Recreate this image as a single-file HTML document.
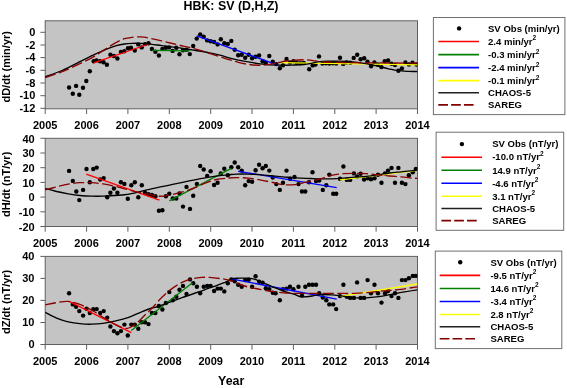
<!DOCTYPE html>
<html><head><meta charset="utf-8"><title>HBK: SV (D,H,Z)</title>
<style>html,body{margin:0;padding:0;background:#fff}svg{display:block}</style></head>
<body>
<svg width="567" height="388" viewBox="0 0 567 388" font-family="'Liberation Sans', Arial, sans-serif" font-weight="bold" fill="#000">
<rect width="567" height="388" fill="#fff"/>
<text x="231" y="10.2" font-size="12.4" text-anchor="middle">HBK: SV (D,H,Z)</text>
<text x="231.2" y="385.4" font-size="12.4" text-anchor="middle">Year</text>
<g>
<clipPath id="cp0"><rect x="45.2" y="20.8" width="372.3" height="88.0"/></clipPath>
<rect x="45.2" y="20.8" width="372.3" height="88.0" fill="#c4c4c4" stroke="#606060" stroke-width="1"/>
<path d="M45.2 108.8 v5.2M86.6 108.8 v5.2M127.9 108.8 v5.2M169.3 108.8 v5.2M210.7 108.8 v5.2M252.0 108.8 v5.2M293.4 108.8 v5.2M334.8 108.8 v5.2M376.1 108.8 v5.2M417.5 108.8 v5.2M45.2 32.3 h-4.8M45.2 45.0 h-4.8M45.2 57.6 h-4.8M45.2 70.3 h-4.8M45.2 83.0 h-4.8M45.2 95.7 h-4.8M45.2 108.3 h-4.8" stroke="#606060" stroke-width="1" fill="none"/>
<text x="45.2" y="129.2" font-size="11" text-anchor="middle">2005</text>
<text x="86.6" y="129.2" font-size="11" text-anchor="middle">2006</text>
<text x="127.9" y="129.2" font-size="11" text-anchor="middle">2007</text>
<text x="169.3" y="129.2" font-size="11" text-anchor="middle">2008</text>
<text x="210.7" y="129.2" font-size="11" text-anchor="middle">2009</text>
<text x="252.0" y="129.2" font-size="11" text-anchor="middle">2010</text>
<text x="293.4" y="129.2" font-size="11" text-anchor="middle">2011</text>
<text x="334.8" y="129.2" font-size="11" text-anchor="middle">2012</text>
<text x="376.1" y="129.2" font-size="11" text-anchor="middle">2013</text>
<text x="417.5" y="129.2" font-size="11" text-anchor="middle">2014</text>
<text x="35.3" y="35.9" font-size="11" text-anchor="end">0</text>
<text x="35.3" y="48.6" font-size="11" text-anchor="end">-2</text>
<text x="35.3" y="61.2" font-size="11" text-anchor="end">-4</text>
<text x="35.3" y="73.9" font-size="11" text-anchor="end">-6</text>
<text x="35.3" y="86.6" font-size="11" text-anchor="end">-8</text>
<text x="35.3" y="99.2" font-size="11" text-anchor="end">-10</text>
<text x="35.3" y="111.9" font-size="11" text-anchor="end">-12</text>
<text transform="translate(9.8 66.8) rotate(-90)" font-size="11" text-anchor="middle">dD/dt (min/yr)</text>
<g clip-path="url(#cp0)">
<g fill="#000"><circle cx="69.1" cy="87.5" r="2.2"/><circle cx="72.8" cy="93.8" r="2.2"/><circle cx="76.1" cy="85.9" r="2.2"/><circle cx="79.3" cy="94.7" r="2.2"/><circle cx="83.0" cy="87.7" r="2.2"/><circle cx="86.3" cy="81.0" r="2.2"/><circle cx="89.8" cy="71.3" r="2.2"/><circle cx="93.7" cy="61.3" r="2.2"/><circle cx="96.5" cy="60.4" r="2.2"/><circle cx="100.0" cy="61.3" r="2.2"/><circle cx="103.5" cy="62.2" r="2.2"/><circle cx="106.9" cy="64.8" r="2.2"/><circle cx="110.4" cy="54.8" r="2.2"/><circle cx="113.9" cy="56.0" r="2.2"/><circle cx="117.4" cy="58.5" r="2.2"/><circle cx="120.9" cy="52.0" r="2.2"/><circle cx="124.3" cy="51.3" r="2.2"/><circle cx="128.0" cy="48.3" r="2.2"/><circle cx="131.0" cy="47.8" r="2.2"/><circle cx="134.8" cy="50.6" r="2.2"/><circle cx="138.3" cy="44.4" r="2.2"/><circle cx="141.7" cy="47.4" r="2.2"/><circle cx="145.0" cy="44.1" r="2.2"/><circle cx="148.5" cy="43.2" r="2.2"/><circle cx="151.9" cy="49.0" r="2.2"/><circle cx="155.4" cy="51.8" r="2.2"/><circle cx="158.9" cy="55.5" r="2.2"/><circle cx="162.4" cy="49.0" r="2.2"/><circle cx="165.9" cy="47.8" r="2.2"/><circle cx="169.1" cy="47.4" r="2.2"/><circle cx="172.6" cy="50.9" r="2.2"/><circle cx="176.3" cy="47.8" r="2.2"/><circle cx="179.5" cy="54.3" r="2.2"/><circle cx="183.0" cy="50.2" r="2.2"/><circle cx="186.5" cy="49.7" r="2.2"/><circle cx="189.8" cy="54.1" r="2.2"/><circle cx="193.2" cy="46.0" r="2.2"/><circle cx="196.7" cy="38.6" r="2.2"/><circle cx="200.2" cy="34.4" r="2.2"/><circle cx="203.7" cy="36.7" r="2.2"/><circle cx="207.2" cy="40.4" r="2.2"/><circle cx="210.6" cy="41.3" r="2.2"/><circle cx="214.1" cy="42.0" r="2.2"/><circle cx="217.6" cy="44.4" r="2.2"/><circle cx="220.8" cy="39.3" r="2.2"/><circle cx="224.3" cy="43.2" r="2.2"/><circle cx="227.8" cy="43.9" r="2.2"/><circle cx="231.3" cy="40.9" r="2.2"/><circle cx="234.7" cy="49.7" r="2.2"/><circle cx="238.2" cy="55.3" r="2.2"/><circle cx="241.7" cy="54.8" r="2.2"/><circle cx="245.2" cy="57.8" r="2.2"/><circle cx="248.7" cy="54.8" r="2.2"/><circle cx="252.1" cy="58.3" r="2.2"/><circle cx="255.6" cy="56.7" r="2.2"/><circle cx="259.1" cy="55.5" r="2.2"/><circle cx="262.6" cy="61.3" r="2.2"/><circle cx="265.8" cy="62.9" r="2.2"/><circle cx="269.3" cy="56.0" r="2.2"/><circle cx="272.8" cy="61.8" r="2.2"/><circle cx="276.3" cy="64.1" r="2.2"/><circle cx="279.8" cy="68.3" r="2.2"/><circle cx="283.0" cy="65.2" r="2.2"/><circle cx="286.5" cy="59.0" r="2.2"/><circle cx="290.0" cy="62.5" r="2.2"/><circle cx="293.4" cy="61.3" r="2.2"/><circle cx="296.9" cy="63.0" r="2.2"/><circle cx="300.4" cy="63.2" r="2.2"/><circle cx="303.8" cy="63.0" r="2.2"/><circle cx="309.2" cy="69.3" r="2.2"/><circle cx="312.7" cy="65.4" r="2.2"/><circle cx="315.5" cy="64.6" r="2.2"/><circle cx="319.0" cy="56.4" r="2.2"/><circle cx="322.4" cy="63.6" r="2.2"/><circle cx="325.9" cy="63.3" r="2.2"/><circle cx="329.3" cy="63.5" r="2.2"/><circle cx="332.8" cy="63.2" r="2.2"/><circle cx="336.2" cy="63.5" r="2.2"/><circle cx="340.0" cy="57.8" r="2.2"/><circle cx="343.2" cy="63.9" r="2.2"/><circle cx="346.6" cy="62.5" r="2.2"/><circle cx="350.3" cy="62.8" r="2.2"/><circle cx="353.7" cy="57.9" r="2.2"/><circle cx="357.2" cy="54.8" r="2.2"/><circle cx="360.6" cy="59.2" r="2.2"/><circle cx="364.2" cy="58.3" r="2.2"/><circle cx="367.5" cy="61.8" r="2.2"/><circle cx="371.1" cy="66.2" r="2.2"/><circle cx="374.4" cy="62.5" r="2.2"/><circle cx="377.8" cy="64.5" r="2.2"/><circle cx="381.4" cy="67.1" r="2.2"/><circle cx="384.7" cy="61.2" r="2.2"/><circle cx="388.1" cy="60.5" r="2.2"/><circle cx="391.6" cy="63.8" r="2.2"/><circle cx="395.0" cy="65.1" r="2.2"/><circle cx="398.4" cy="70.7" r="2.2"/><circle cx="401.9" cy="68.4" r="2.2"/><circle cx="405.4" cy="62.5" r="2.2"/><circle cx="408.9" cy="64.5" r="2.2"/><circle cx="412.5" cy="62.8" r="2.2"/><circle cx="416.4" cy="64.5" r="2.2"/></g>
<path d="M93.7 62.9 L149.0 44.0" stroke="#ff0000" stroke-width="1.3" fill="none"/>
<path d="M152.4 50.4 L189.5 50.9" stroke="#008000" stroke-width="1.3" fill="none"/>
<path d="M196.7 35.8 L277.3 64.9" stroke="#0000ff" stroke-width="1.3" fill="none"/>
<path d="M279.8 62.6 L417.5 64.8" stroke="#ffff00" stroke-width="1.3" fill="none"/>
<path d="M45.0 76.8C47.6 75.8 55.6 73.2 60.9 71.0C66.2 68.8 71.4 65.9 76.7 63.3C82.0 60.7 87.3 57.9 92.6 55.4C97.9 52.9 104.5 49.9 108.5 48.3C112.5 46.7 113.8 46.3 116.4 45.6C119.1 44.9 121.8 44.4 124.4 44.0C127.0 43.6 128.4 43.4 132.0 43.3C135.6 43.2 141.0 43.2 145.9 43.6C150.8 44.0 156.4 44.9 161.7 45.6C167.0 46.3 172.3 47.0 177.6 47.7C182.9 48.5 188.2 49.2 193.5 50.1C198.8 51.0 205.0 51.9 209.4 52.8C213.8 53.6 216.4 54.3 220.0 55.2C223.6 56.1 226.5 57.2 230.9 58.3C235.3 59.4 241.4 60.7 246.7 61.7C252.0 62.7 257.3 63.5 262.6 64.1C267.9 64.7 273.2 65.0 278.5 65.2C283.8 65.4 290.3 65.1 294.4 65.0C298.5 64.9 300.4 64.8 303.0 64.6C305.6 64.4 307.5 64.0 310.0 63.6C312.5 63.2 315.0 62.3 318.0 61.9C321.0 61.5 324.6 61.3 327.9 61.2C331.2 61.1 334.5 61.1 337.8 61.1C341.1 61.1 344.3 61.2 347.6 61.4C350.9 61.6 354.2 61.9 357.5 62.3C360.8 62.7 364.6 63.3 367.4 63.8C370.1 64.3 371.7 64.8 374.0 65.3C376.3 65.8 378.6 66.4 381.0 67.0C383.4 67.6 385.8 68.2 388.6 68.8C391.4 69.4 394.6 70.2 397.9 70.6C401.2 71.0 405.2 71.2 408.5 71.4C411.8 71.6 416.0 71.5 417.5 71.5" stroke="#000" stroke-width="1.35" fill="none"/>
<path d="M45.0 77.6C47.6 76.7 55.6 74.2 60.9 72.1C66.2 70.0 71.4 67.7 76.7 65.2C82.0 62.7 88.6 59.5 92.6 57.3C96.6 55.1 97.9 53.9 100.6 52.2C103.2 50.5 105.9 48.7 108.5 47.1C111.1 45.5 113.8 43.8 116.4 42.4C119.1 41.0 121.8 39.6 124.4 38.7C127.0 37.9 129.5 37.6 132.0 37.3C134.5 37.0 137.2 36.9 139.5 36.9C141.8 36.9 142.2 36.7 145.9 37.4C149.6 38.1 156.4 39.7 161.7 40.9C167.0 42.1 172.3 43.5 177.6 44.8C182.9 46.1 188.2 47.1 193.5 48.5C198.8 49.9 205.0 51.9 209.4 53.3C213.8 54.7 216.4 55.6 220.0 56.7C223.6 57.9 226.5 59.0 230.9 60.2C235.3 61.4 241.4 63.3 246.7 64.1C252.0 64.9 257.3 65.5 262.6 65.2C267.9 64.9 274.5 63.2 278.5 62.5C282.5 61.8 282.0 61.5 286.4 61.0C290.8 60.5 299.8 59.7 305.0 59.8C310.2 59.9 314.5 61.0 317.8 61.4C321.1 61.8 320.5 61.8 325.0 62.0C329.5 62.2 335.8 62.5 345.0 62.6C354.2 62.8 367.9 62.8 380.0 62.9C392.1 63.0 411.2 63.2 417.5 63.2" stroke="#8a0000" stroke-width="1.35" fill="none" stroke-dasharray="11 3.5"/>
</g>
<rect x="433.4" y="17.5" width="131.5" height="97.1" fill="#fff" stroke="#707070" stroke-width="1"/>
<circle cx="459.1" cy="28.4" r="2.2"/>
<text x="488.0" y="31.6" font-size="9.55">SV Obs (min/yr)</text>
<path d="M438.3 41.5 H479.0" stroke="#ff0000" stroke-width="1.6"/>
<text x="488.0" y="44.7" font-size="9.55">2.4 min/yr<tspan font-size="6.5" dy="-4.3">2</tspan></text>
<path d="M438.3 54.6 H479.0" stroke="#008000" stroke-width="1.6"/>
<text x="488.0" y="57.8" font-size="9.55">-0.3 min/yr<tspan font-size="6.5" dy="-4.3">2</tspan></text>
<path d="M438.3 67.6 H479.0" stroke="#0000ff" stroke-width="1.6"/>
<text x="488.0" y="70.8" font-size="9.55">-2.4 min/yr<tspan font-size="6.5" dy="-4.3">2</tspan></text>
<path d="M438.3 80.6 H479.0" stroke="#ffff00" stroke-width="1.6"/>
<text x="488.0" y="83.8" font-size="9.55">-0.1 min/yr<tspan font-size="6.5" dy="-4.3">2</tspan></text>
<path d="M438.3 92.8 H479.0" stroke="#202020" stroke-width="1.6"/>
<text x="488.0" y="96.0" font-size="9.55">CHAOS-5</text>
<path d="M438.3 104.9 H473.6" stroke="#800000" stroke-width="1.6" stroke-dasharray="9.7 3.1"/>
<text x="488.0" y="108.1" font-size="9.55">SAREG</text>
</g>
<g>
<clipPath id="cp1"><rect x="45.2" y="138.3" width="372.3" height="88.2"/></clipPath>
<rect x="45.2" y="138.3" width="372.3" height="88.2" fill="#c4c4c4" stroke="#606060" stroke-width="1"/>
<path d="M45.2 226.5 v5.2M86.6 226.5 v5.2M127.9 226.5 v5.2M169.3 226.5 v5.2M210.7 226.5 v5.2M252.0 226.5 v5.2M293.4 226.5 v5.2M334.8 226.5 v5.2M376.1 226.5 v5.2M417.5 226.5 v5.2M45.2 138.3 h-4.8M45.2 153.0 h-4.8M45.2 167.7 h-4.8M45.2 182.4 h-4.8M45.2 197.1 h-4.8M45.2 211.8 h-4.8M45.2 226.5 h-4.8" stroke="#606060" stroke-width="1" fill="none"/>
<text x="45.2" y="246.9" font-size="11" text-anchor="middle">2005</text>
<text x="86.6" y="246.9" font-size="11" text-anchor="middle">2006</text>
<text x="127.9" y="246.9" font-size="11" text-anchor="middle">2007</text>
<text x="169.3" y="246.9" font-size="11" text-anchor="middle">2008</text>
<text x="210.7" y="246.9" font-size="11" text-anchor="middle">2009</text>
<text x="252.0" y="246.9" font-size="11" text-anchor="middle">2010</text>
<text x="293.4" y="246.9" font-size="11" text-anchor="middle">2011</text>
<text x="334.8" y="246.9" font-size="11" text-anchor="middle">2012</text>
<text x="376.1" y="246.9" font-size="11" text-anchor="middle">2013</text>
<text x="417.5" y="246.9" font-size="11" text-anchor="middle">2014</text>
<text x="34.7" y="142.5" font-size="11" text-anchor="end">40</text>
<text x="34.7" y="157.2" font-size="11" text-anchor="end">30</text>
<text x="34.7" y="171.9" font-size="11" text-anchor="end">20</text>
<text x="34.7" y="186.6" font-size="11" text-anchor="end">10</text>
<text x="34.7" y="201.3" font-size="11" text-anchor="end">0</text>
<text x="34.7" y="216.0" font-size="11" text-anchor="end">-10</text>
<text x="34.7" y="230.7" font-size="11" text-anchor="end">-20</text>
<text transform="translate(9.8 184.4) rotate(-90)" font-size="11" text-anchor="middle">dH/dt (nT/yr)</text>
<g clip-path="url(#cp1)">
<g fill="#000"><circle cx="69.1" cy="170.9" r="2.2"/><circle cx="72.8" cy="180.9" r="2.2"/><circle cx="76.3" cy="191.5" r="2.2"/><circle cx="79.3" cy="200.1" r="2.2"/><circle cx="83.1" cy="189.9" r="2.2"/><circle cx="86.5" cy="169.0" r="2.2"/><circle cx="89.8" cy="182.2" r="2.2"/><circle cx="93.3" cy="169.0" r="2.2"/><circle cx="96.7" cy="167.6" r="2.2"/><circle cx="100.2" cy="179.5" r="2.2"/><circle cx="103.7" cy="178.1" r="2.2"/><circle cx="107.2" cy="197.3" r="2.2"/><circle cx="110.4" cy="192.7" r="2.2"/><circle cx="113.9" cy="188.5" r="2.2"/><circle cx="117.4" cy="192.7" r="2.2"/><circle cx="120.9" cy="182.2" r="2.2"/><circle cx="124.4" cy="183.9" r="2.2"/><circle cx="127.8" cy="198.7" r="2.2"/><circle cx="131.3" cy="185.3" r="2.2"/><circle cx="134.8" cy="182.2" r="2.2"/><circle cx="138.3" cy="197.3" r="2.2"/><circle cx="141.8" cy="185.3" r="2.2"/><circle cx="145.0" cy="192.7" r="2.2"/><circle cx="148.5" cy="194.3" r="2.2"/><circle cx="151.9" cy="195.0" r="2.2"/><circle cx="155.4" cy="196.2" r="2.2"/><circle cx="158.9" cy="210.8" r="2.2"/><circle cx="162.4" cy="210.3" r="2.2"/><circle cx="165.9" cy="196.2" r="2.2"/><circle cx="169.3" cy="193.8" r="2.2"/><circle cx="172.8" cy="198.5" r="2.2"/><circle cx="176.3" cy="198.5" r="2.2"/><circle cx="179.5" cy="193.4" r="2.2"/><circle cx="183.0" cy="206.6" r="2.2"/><circle cx="186.5" cy="186.9" r="2.2"/><circle cx="190.0" cy="208.9" r="2.2"/><circle cx="193.2" cy="195.7" r="2.2"/><circle cx="196.9" cy="183.9" r="2.2"/><circle cx="200.2" cy="166.0" r="2.2"/><circle cx="203.7" cy="169.5" r="2.2"/><circle cx="207.2" cy="176.0" r="2.2"/><circle cx="210.6" cy="171.3" r="2.2"/><circle cx="214.1" cy="185.0" r="2.2"/><circle cx="217.6" cy="182.7" r="2.2"/><circle cx="220.8" cy="173.4" r="2.2"/><circle cx="224.3" cy="168.8" r="2.2"/><circle cx="227.8" cy="175.3" r="2.2"/><circle cx="231.3" cy="167.2" r="2.2"/><circle cx="234.7" cy="162.5" r="2.2"/><circle cx="238.2" cy="167.2" r="2.2"/><circle cx="241.7" cy="170.6" r="2.2"/><circle cx="245.2" cy="185.3" r="2.2"/><circle cx="248.7" cy="181.1" r="2.2"/><circle cx="252.1" cy="181.8" r="2.2"/><circle cx="255.6" cy="170.2" r="2.2"/><circle cx="259.1" cy="164.8" r="2.2"/><circle cx="262.6" cy="168.3" r="2.2"/><circle cx="265.8" cy="166.0" r="2.2"/><circle cx="269.3" cy="170.6" r="2.2"/><circle cx="272.8" cy="177.6" r="2.2"/><circle cx="276.3" cy="184.1" r="2.2"/><circle cx="279.8" cy="189.9" r="2.2"/><circle cx="283.0" cy="182.7" r="2.2"/><circle cx="286.5" cy="170.6" r="2.2"/><circle cx="290.0" cy="178.8" r="2.2"/><circle cx="294.5" cy="177.0" r="2.2"/><circle cx="298.5" cy="184.1" r="2.2"/><circle cx="302.0" cy="191.5" r="2.2"/><circle cx="305.3" cy="191.5" r="2.2"/><circle cx="309.0" cy="182.2" r="2.2"/><circle cx="312.5" cy="172.3" r="2.2"/><circle cx="316.0" cy="181.1" r="2.2"/><circle cx="319.2" cy="180.6" r="2.2"/><circle cx="322.8" cy="189.9" r="2.2"/><circle cx="326.3" cy="185.3" r="2.2"/><circle cx="329.3" cy="174.6" r="2.2"/><circle cx="333.2" cy="193.8" r="2.2"/><circle cx="336.2" cy="193.8" r="2.2"/><circle cx="340.0" cy="178.8" r="2.2"/><circle cx="343.4" cy="166.5" r="2.2"/><circle cx="346.9" cy="179.9" r="2.2"/><circle cx="350.2" cy="179.9" r="2.2"/><circle cx="353.9" cy="173.4" r="2.2"/><circle cx="357.1" cy="176.4" r="2.2"/><circle cx="360.6" cy="173.7" r="2.2"/><circle cx="364.1" cy="179.5" r="2.2"/><circle cx="367.6" cy="178.3" r="2.2"/><circle cx="371.0" cy="179.2" r="2.2"/><circle cx="374.5" cy="178.3" r="2.2"/><circle cx="378.0" cy="174.8" r="2.2"/><circle cx="381.5" cy="182.7" r="2.2"/><circle cx="385.0" cy="173.4" r="2.2"/><circle cx="388.0" cy="170.6" r="2.2"/><circle cx="391.5" cy="167.9" r="2.2"/><circle cx="395.0" cy="182.7" r="2.2"/><circle cx="398.4" cy="167.9" r="2.2"/><circle cx="401.9" cy="182.7" r="2.2"/><circle cx="405.4" cy="184.1" r="2.2"/><circle cx="408.9" cy="175.3" r="2.2"/><circle cx="412.8" cy="172.3" r="2.2"/><circle cx="415.8" cy="169.0" r="2.2"/></g>
<path d="M86.3 174.1 L159.4 200.2" stroke="#ff0000" stroke-width="1.3" fill="none"/>
<path d="M169.3 200.8 L231.3 168.3" stroke="#008000" stroke-width="1.3" fill="none"/>
<path d="M238.2 171.3 L336.7 187.6" stroke="#0000ff" stroke-width="1.3" fill="none"/>
<path d="M340.0 179.8 L417.5 170.4" stroke="#ffff00" stroke-width="1.3" fill="none"/>
<path d="M45.0 188.5C46.9 189.0 52.7 190.6 56.6 191.5C60.5 192.4 64.3 193.1 68.2 193.8C72.1 194.5 75.9 195.1 79.8 195.5C83.7 195.9 87.5 196.1 91.4 196.2C95.3 196.3 99.1 196.3 103.0 196.2C106.9 196.1 110.7 195.8 114.6 195.5C118.5 195.2 123.6 194.8 126.2 194.5C128.8 194.2 126.7 194.6 130.0 193.9C133.3 193.2 140.6 191.4 145.9 190.2C151.2 189.0 156.4 187.8 161.7 186.7C167.0 185.5 172.3 184.4 177.6 183.3C182.9 182.2 188.2 181.1 193.5 180.1C198.8 179.1 205.0 177.9 209.4 177.2C213.8 176.4 216.9 176.0 220.0 175.6C223.1 175.2 225.0 175.1 227.8 174.8C230.6 174.6 233.2 174.2 236.6 174.1C240.0 174.0 244.3 174.0 248.2 174.1C252.1 174.2 255.9 174.3 259.8 174.6C263.7 174.9 267.5 175.3 271.4 175.7C275.3 176.1 279.1 176.6 283.0 176.9C286.9 177.2 290.7 177.6 294.6 177.8C298.5 178.0 302.3 178.1 306.2 178.3C310.1 178.5 314.7 178.7 317.8 178.8C320.9 178.9 322.7 178.8 325.0 178.8C327.3 178.8 328.6 178.9 331.6 178.8C334.6 178.7 339.3 178.4 343.2 178.1C347.1 177.8 350.9 177.4 354.8 177.1C358.7 176.8 362.5 176.8 366.4 176.4C370.3 176.0 374.1 175.4 378.0 174.8C381.9 174.2 385.7 173.5 389.6 173.0C393.5 172.5 397.3 172.2 401.2 171.8C405.1 171.4 410.1 170.9 412.8 170.6C415.5 170.3 416.7 170.3 417.5 170.2" stroke="#000" stroke-width="1.35" fill="none"/>
<path d="M45.0 189.9C46.9 189.4 52.7 187.9 56.6 186.9C60.5 185.9 64.3 184.8 68.2 184.1C72.1 183.4 75.9 182.9 79.8 182.7C83.7 182.5 87.5 182.5 91.4 182.7C95.3 182.9 99.1 183.3 103.0 183.9C106.9 184.5 110.7 185.3 114.6 186.2C118.5 187.1 122.3 188.2 126.2 189.2C130.1 190.2 134.4 191.4 137.8 192.2C141.2 193.0 143.2 193.1 146.6 193.8C150.0 194.5 154.3 196.0 158.2 196.2C162.1 196.4 165.9 195.7 169.8 195.0C173.7 194.3 177.5 193.3 181.4 192.2C185.3 191.1 189.1 190.0 193.0 188.5C196.9 187.0 200.7 184.9 204.6 183.4C208.5 181.9 212.3 180.4 216.2 179.5C220.1 178.6 224.4 178.4 227.8 178.1C231.2 177.8 233.2 177.6 236.6 177.6C240.0 177.6 244.3 177.7 248.2 178.1C252.1 178.5 255.9 179.2 259.8 179.9C263.7 180.6 267.5 181.4 271.4 182.2C275.3 183.0 279.1 184.2 283.0 184.6C286.9 185.0 290.7 185.0 294.6 184.6C298.5 184.2 302.3 183.0 306.2 182.2C310.1 181.3 314.7 180.3 317.8 179.5C320.9 178.7 322.7 178.3 325.0 177.6C327.3 176.9 328.6 176.0 331.6 175.3C334.6 174.7 339.3 174.0 343.2 173.7C347.1 173.4 350.9 173.4 354.8 173.4C358.7 173.4 362.5 173.5 366.4 173.7C370.3 173.9 374.1 174.4 378.0 174.8C381.9 175.2 385.7 175.7 389.6 176.0C393.5 176.3 397.3 176.6 401.2 176.9C405.1 177.2 410.1 177.9 412.8 178.1C415.5 178.3 416.7 178.3 417.5 178.3" stroke="#8a0000" stroke-width="1.35" fill="none" stroke-dasharray="11 3.5"/>
</g>
<rect x="436.1" y="132.2" width="127.6" height="98.1" fill="#fff" stroke="#707070" stroke-width="1"/>
<circle cx="461.9" cy="144.1" r="2.2"/>
<text x="492.2" y="147.3" font-size="9.55">SV Obs (nT/yr)</text>
<path d="M441.4 157.2 H482.0" stroke="#ff0000" stroke-width="1.6"/>
<text x="492.2" y="160.4" font-size="9.55">-10.0 nT/yr<tspan font-size="6.5" dy="-4.3">2</tspan></text>
<path d="M441.4 170.3 H482.0" stroke="#008000" stroke-width="1.6"/>
<text x="492.2" y="173.5" font-size="9.55">14.9 nT/yr<tspan font-size="6.5" dy="-4.3">2</tspan></text>
<path d="M441.4 183.3 H482.0" stroke="#0000ff" stroke-width="1.6"/>
<text x="492.2" y="186.5" font-size="9.55">-4.6 nT/yr<tspan font-size="6.5" dy="-4.3">2</tspan></text>
<path d="M441.4 196.3 H482.0" stroke="#ffff00" stroke-width="1.6"/>
<text x="492.2" y="199.5" font-size="9.55">3.1 nT/yr<tspan font-size="6.5" dy="-4.3">2</tspan></text>
<path d="M441.4 208.5 H482.0" stroke="#202020" stroke-width="1.6"/>
<text x="492.2" y="211.7" font-size="9.55">CHAOS-5</text>
<path d="M441.4 220.6 H476.7" stroke="#800000" stroke-width="1.6" stroke-dasharray="9.7 3.1"/>
<text x="492.2" y="223.8" font-size="9.55">SAREG</text>
</g>
<g>
<clipPath id="cp2"><rect x="45.2" y="256.4" width="372.3" height="88.1"/></clipPath>
<rect x="45.2" y="256.4" width="372.3" height="88.1" fill="#c4c4c4" stroke="#606060" stroke-width="1"/>
<path d="M45.2 344.5 v5.2M86.6 344.5 v5.2M127.9 344.5 v5.2M169.3 344.5 v5.2M210.7 344.5 v5.2M252.0 344.5 v5.2M293.4 344.5 v5.2M334.8 344.5 v5.2M376.1 344.5 v5.2M417.5 344.5 v5.2M45.2 256.4 h-4.8M45.2 278.4 h-4.8M45.2 300.4 h-4.8M45.2 322.5 h-4.8M45.2 344.5 h-4.8" stroke="#606060" stroke-width="1" fill="none"/>
<text x="45.2" y="365.2" font-size="11" text-anchor="middle">2005</text>
<text x="86.6" y="365.2" font-size="11" text-anchor="middle">2006</text>
<text x="127.9" y="365.2" font-size="11" text-anchor="middle">2007</text>
<text x="169.3" y="365.2" font-size="11" text-anchor="middle">2008</text>
<text x="210.7" y="365.2" font-size="11" text-anchor="middle">2009</text>
<text x="252.0" y="365.2" font-size="11" text-anchor="middle">2010</text>
<text x="293.4" y="365.2" font-size="11" text-anchor="middle">2011</text>
<text x="334.8" y="365.2" font-size="11" text-anchor="middle">2012</text>
<text x="376.1" y="365.2" font-size="11" text-anchor="middle">2013</text>
<text x="417.5" y="365.2" font-size="11" text-anchor="middle">2014</text>
<text x="34.5" y="259.8" font-size="11" text-anchor="end">40</text>
<text x="34.5" y="281.8" font-size="11" text-anchor="end">30</text>
<text x="34.5" y="303.8" font-size="11" text-anchor="end">20</text>
<text x="34.5" y="325.9" font-size="11" text-anchor="end">10</text>
<text x="34.5" y="347.9" font-size="11" text-anchor="end">0</text>
<text transform="translate(9.8 301.8) rotate(-90)" font-size="11" text-anchor="middle">dZ/dt (nT/yr)</text>
<g clip-path="url(#cp2)">
<g fill="#000"><circle cx="69.1" cy="293.3" r="2.2"/><circle cx="72.8" cy="304.4" r="2.2"/><circle cx="76.1" cy="306.7" r="2.2"/><circle cx="79.3" cy="311.1" r="2.2"/><circle cx="83.1" cy="315.6" r="2.2"/><circle cx="86.5" cy="308.8" r="2.2"/><circle cx="89.8" cy="313.0" r="2.2"/><circle cx="93.3" cy="309.3" r="2.2"/><circle cx="96.7" cy="309.1" r="2.2"/><circle cx="100.2" cy="313.0" r="2.2"/><circle cx="103.7" cy="311.1" r="2.2"/><circle cx="107.2" cy="317.6" r="2.2"/><circle cx="110.4" cy="326.5" r="2.2"/><circle cx="113.9" cy="331.1" r="2.2"/><circle cx="117.4" cy="333.2" r="2.2"/><circle cx="120.9" cy="331.1" r="2.2"/><circle cx="124.4" cy="324.6" r="2.2"/><circle cx="127.8" cy="335.5" r="2.2"/><circle cx="131.3" cy="324.6" r="2.2"/><circle cx="134.8" cy="324.6" r="2.2"/><circle cx="138.3" cy="328.8" r="2.2"/><circle cx="141.6" cy="322.3" r="2.2"/><circle cx="145.0" cy="322.3" r="2.2"/><circle cx="148.5" cy="324.1" r="2.2"/><circle cx="151.9" cy="313.0" r="2.2"/><circle cx="155.4" cy="313.0" r="2.2"/><circle cx="158.9" cy="306.0" r="2.2"/><circle cx="162.4" cy="309.5" r="2.2"/><circle cx="165.9" cy="303.0" r="2.2"/><circle cx="169.3" cy="292.1" r="2.2"/><circle cx="172.8" cy="300.2" r="2.2"/><circle cx="176.3" cy="296.8" r="2.2"/><circle cx="179.5" cy="289.8" r="2.2"/><circle cx="183.0" cy="285.9" r="2.2"/><circle cx="186.5" cy="294.0" r="2.2"/><circle cx="190.0" cy="279.4" r="2.2"/><circle cx="193.2" cy="283.3" r="2.2"/><circle cx="196.9" cy="286.8" r="2.2"/><circle cx="200.2" cy="293.3" r="2.2"/><circle cx="203.7" cy="286.8" r="2.2"/><circle cx="207.2" cy="285.9" r="2.2"/><circle cx="210.6" cy="285.9" r="2.2"/><circle cx="214.1" cy="291.0" r="2.2"/><circle cx="217.6" cy="288.6" r="2.2"/><circle cx="220.8" cy="288.6" r="2.2"/><circle cx="224.3" cy="291.4" r="2.2"/><circle cx="227.8" cy="283.3" r="2.2"/><circle cx="231.3" cy="279.4" r="2.2"/><circle cx="234.7" cy="281.2" r="2.2"/><circle cx="238.2" cy="284.7" r="2.2"/><circle cx="241.7" cy="286.8" r="2.2"/><circle cx="245.2" cy="280.1" r="2.2"/><circle cx="248.7" cy="279.8" r="2.2"/><circle cx="252.1" cy="286.8" r="2.2"/><circle cx="255.6" cy="276.3" r="2.2"/><circle cx="259.1" cy="281.7" r="2.2"/><circle cx="262.6" cy="282.8" r="2.2"/><circle cx="265.8" cy="288.2" r="2.2"/><circle cx="269.3" cy="289.1" r="2.2"/><circle cx="272.8" cy="292.8" r="2.2"/><circle cx="275.6" cy="293.3" r="2.2"/><circle cx="279.8" cy="300.2" r="2.2"/><circle cx="283.0" cy="289.1" r="2.2"/><circle cx="286.5" cy="288.6" r="2.2"/><circle cx="290.0" cy="286.8" r="2.2"/><circle cx="293.4" cy="289.3" r="2.2"/><circle cx="298.5" cy="286.8" r="2.2"/><circle cx="302.0" cy="295.6" r="2.2"/><circle cx="305.3" cy="286.8" r="2.2"/><circle cx="309.0" cy="284.7" r="2.2"/><circle cx="312.5" cy="284.7" r="2.2"/><circle cx="316.0" cy="284.7" r="2.2"/><circle cx="319.2" cy="293.3" r="2.2"/><circle cx="322.8" cy="297.5" r="2.2"/><circle cx="326.3" cy="300.2" r="2.2"/><circle cx="329.3" cy="304.4" r="2.2"/><circle cx="333.2" cy="304.4" r="2.2"/><circle cx="336.2" cy="309.1" r="2.2"/><circle cx="340.0" cy="296.1" r="2.2"/><circle cx="343.4" cy="284.7" r="2.2"/><circle cx="346.9" cy="296.8" r="2.2"/><circle cx="350.2" cy="297.9" r="2.2"/><circle cx="353.9" cy="297.9" r="2.2"/><circle cx="357.1" cy="282.4" r="2.2"/><circle cx="360.6" cy="297.9" r="2.2"/><circle cx="364.1" cy="297.9" r="2.2"/><circle cx="367.6" cy="280.1" r="2.2"/><circle cx="371.0" cy="293.3" r="2.2"/><circle cx="374.5" cy="284.7" r="2.2"/><circle cx="378.0" cy="293.3" r="2.2"/><circle cx="381.5" cy="302.6" r="2.2"/><circle cx="385.0" cy="293.3" r="2.2"/><circle cx="388.0" cy="291.0" r="2.2"/><circle cx="391.5" cy="296.1" r="2.2"/><circle cx="395.0" cy="293.3" r="2.2"/><circle cx="398.4" cy="297.9" r="2.2"/><circle cx="401.9" cy="280.1" r="2.2"/><circle cx="405.4" cy="280.1" r="2.2"/><circle cx="408.9" cy="278.2" r="2.2"/><circle cx="412.8" cy="275.9" r="2.2"/><circle cx="415.8" cy="275.9" r="2.2"/></g>
<path d="M69.1 301.4 L131.3 332.7" stroke="#ff0000" stroke-width="1.3" fill="none"/>
<path d="M131.3 330.6 L192.5 282.8" stroke="#008000" stroke-width="1.3" fill="none"/>
<path d="M231.3 278.9 L336.7 299.1" stroke="#0000ff" stroke-width="1.3" fill="none"/>
<path d="M340.5 296.3 L417.5 284.0" stroke="#ffff00" stroke-width="1.3" fill="none"/>
<path d="M45.0 312.3C46.9 313.3 52.7 316.5 56.6 318.1C60.5 319.7 64.3 320.9 68.2 321.8C72.1 322.7 75.9 323.3 79.8 323.7C83.7 324.1 87.6 324.3 91.4 324.2C95.2 324.1 98.8 323.9 102.9 323.3C107.0 322.8 111.5 321.9 115.8 320.9C120.1 319.9 124.4 318.8 128.7 317.3C133.0 315.8 137.7 313.4 141.6 311.9C145.5 310.3 149.1 308.9 151.9 308.0C154.7 307.1 153.3 308.2 158.2 306.5C163.1 304.8 173.7 300.7 181.4 297.9C189.1 295.1 197.3 292.4 204.6 289.8C211.9 287.2 220.6 284.2 225.0 282.4C229.4 280.6 229.0 279.6 231.3 278.9C233.6 278.2 236.1 278.3 238.9 278.2C241.7 278.1 245.5 278.0 248.2 278.2C250.9 278.4 252.9 278.7 255.2 279.4C257.5 280.1 259.4 281.2 262.1 282.4C264.8 283.5 267.9 284.9 271.4 286.3C274.9 287.7 279.1 289.6 283.0 291.0C286.9 292.4 291.5 293.4 294.6 294.4C297.7 295.4 298.5 296.6 301.6 296.8C304.7 297.0 310.1 296.2 313.2 295.8C316.3 295.4 316.9 294.8 320.0 294.6C323.1 294.4 328.1 294.6 331.6 294.8C335.1 295.0 337.8 295.4 341.0 295.8C344.2 296.2 347.2 297.0 350.6 297.3C354.1 297.6 358.2 297.8 361.7 297.8C365.1 297.8 367.9 297.6 371.3 297.3C374.8 297.0 378.7 296.8 382.4 296.2C386.1 295.6 389.8 294.5 393.5 293.8C397.2 293.1 400.6 292.6 404.6 291.9C408.6 291.2 415.4 290.1 417.5 289.8" stroke="#000" stroke-width="1.35" fill="none"/>
<path d="M45.0 304.9C46.9 304.5 52.7 303.2 56.6 302.6C60.5 302.0 64.3 301.1 68.2 301.4C72.1 301.7 75.9 303.0 79.8 304.4C83.7 305.8 87.5 307.9 91.4 310.0C95.3 312.1 99.1 314.8 103.0 317.2C106.9 319.6 111.4 322.4 114.6 324.1C117.8 325.8 119.9 326.8 122.0 327.5C124.1 328.2 125.7 328.5 127.4 328.3C129.1 328.1 130.2 327.5 132.0 326.5C133.8 325.5 135.6 324.2 137.9 322.1C140.2 320.1 143.2 316.8 145.9 314.2C148.6 311.6 151.2 309.1 153.8 306.3C156.4 303.5 159.0 300.1 161.7 297.5C164.3 294.9 167.0 292.5 169.7 290.4C172.3 288.3 174.9 286.4 177.6 284.8C180.2 283.2 182.9 281.9 185.6 280.9C188.2 279.8 190.9 279.1 193.5 278.5C196.1 277.9 198.8 277.6 201.4 277.4C204.1 277.2 206.3 277.2 209.4 277.4C212.5 277.6 216.9 278.1 220.0 278.5C223.1 278.9 225.8 279.4 227.8 279.8C229.8 280.2 230.2 280.3 232.0 281.0C233.8 281.7 236.2 283.0 238.9 284.0C241.6 285.0 244.7 286.1 248.2 287.0C251.7 287.9 255.9 288.6 259.8 289.3C263.7 290.0 267.5 290.8 271.4 291.4C275.3 292.0 279.1 292.5 283.0 292.8C286.9 293.1 290.7 293.2 294.6 293.3C298.5 293.4 302.3 293.3 306.2 293.3C310.1 293.3 313.6 293.3 317.8 293.3C322.0 293.3 327.4 293.3 331.6 293.3C335.8 293.3 339.3 293.3 343.2 293.3C347.1 293.3 350.9 293.4 354.8 293.3C358.7 293.2 362.5 292.9 366.4 292.6C370.3 292.3 374.1 291.8 378.0 291.4C381.9 291.0 385.7 290.9 389.6 290.5C393.5 290.1 397.3 289.8 401.2 289.3C405.1 288.8 410.1 287.9 412.8 287.5C415.5 287.1 416.7 286.9 417.5 286.8" stroke="#8a0000" stroke-width="1.35" fill="none" stroke-dasharray="11 3.5"/>
</g>
<rect x="435.3" y="251.1" width="126.5" height="97.5" fill="#fff" stroke="#707070" stroke-width="1"/>
<circle cx="460.2" cy="262.3" r="2.2"/>
<text x="490.4" y="265.5" font-size="9.55">SV Obs (nT/yr)</text>
<path d="M439.7 275.4 H480.2" stroke="#ff0000" stroke-width="1.6"/>
<text x="490.4" y="278.6" font-size="9.55">-9.5 nT/yr<tspan font-size="6.5" dy="-4.3">2</tspan></text>
<path d="M439.7 288.5 H480.2" stroke="#008000" stroke-width="1.6"/>
<text x="490.4" y="291.7" font-size="9.55">14.6 nT/yr<tspan font-size="6.5" dy="-4.3">2</tspan></text>
<path d="M439.7 301.5 H480.2" stroke="#0000ff" stroke-width="1.6"/>
<text x="490.4" y="304.7" font-size="9.55">-3.4 nT/yr<tspan font-size="6.5" dy="-4.3">2</tspan></text>
<path d="M439.7 314.5 H480.2" stroke="#ffff00" stroke-width="1.6"/>
<text x="490.4" y="317.7" font-size="9.55">2.8 nT/yr<tspan font-size="6.5" dy="-4.3">2</tspan></text>
<path d="M439.7 326.7 H480.2" stroke="#202020" stroke-width="1.6"/>
<text x="490.4" y="329.9" font-size="9.55">CHAOS-5</text>
<path d="M439.7 338.8 H475.0" stroke="#800000" stroke-width="1.6" stroke-dasharray="9.7 3.1"/>
<text x="490.4" y="342.0" font-size="9.55">SAREG</text>
</g>
</svg>
</body></html>
